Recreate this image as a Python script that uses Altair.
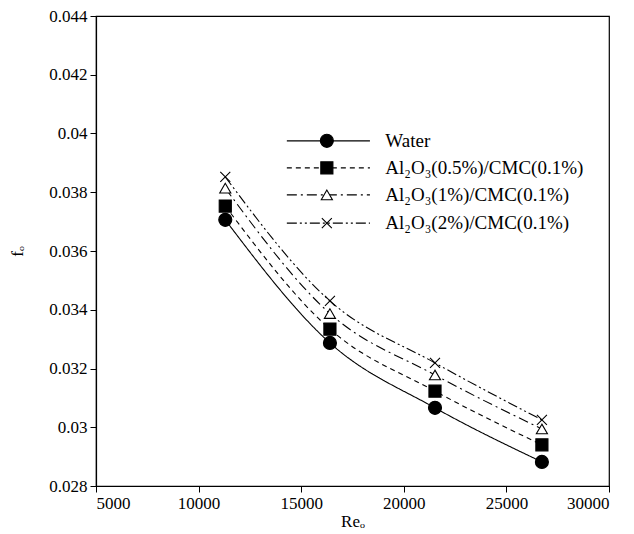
import altair as alt
import pandas as pd

# ---- data ----
re_vals = [11300, 16400, 21520, 26730]
series_names = ["Water", "Al₂O₃(0.5%)/CMC(0.1%)", "Al₂O₃(1%)/CMC(0.1%)", "Al₂O₃(2%)/CMC(0.1%)"]
f_water = [0.03706, 0.03287, 0.03066, 0.02882]
f_al05 = [0.03753, 0.03334, 0.03123, 0.02940]
f_al1 = [0.03814, 0.03387, 0.03178, 0.02994]
f_al2 = [0.03852, 0.03430, 0.03219, 0.03025]

x_ticks = [5000, 10000, 15000, 20000, 25000, 30000]
y_ticks = [0.028, 0.030, 0.032, 0.034, 0.036, 0.038, 0.040, 0.042, 0.044]

# legend placement (data units)
leg_y = [0.03975, 0.03883, 0.03791, 0.03695]
leg_x1, leg_xm, leg_x2, leg_xt = 14300, 16250, 18350, 19100

# ---- styles ----
dashes = [[1, 0], [5, 4], [10, 4, 2, 4], [10, 3, 2, 3, 2, 3]]
shapes = ["circle", "square", "triangle-up", "M-1,-1L1,1M1,-1L-1,1"]
fills = ["black", "black", "white", "transparent"]
sizes = [170, 100, 130, 80]

rows = []
for name, vals in zip(series_names, [f_water, f_al05, f_al1, f_al2]):
    for r, f in zip(re_vals, vals):
        rows.append({"series": name, "Re": r, "f": f})
df = pd.DataFrame(rows)

leg = pd.DataFrame({
    "series": series_names,
    "y": leg_y,
    "x1": [leg_x1] * 4,
    "x2": [leg_x2] * 4,
    "xm": [leg_xm] * 4,
    "xt": [leg_xt] * 4,
})

FONT = "Liberation Serif"

xscale = alt.Scale(domain=[5000, 30000], nice=False, zero=False)
yscale = alt.Scale(domain=[0.028, 0.044], nice=False, zero=False)

dash_enc = alt.StrokeDash("series:N", scale=alt.Scale(domain=series_names, range=dashes), legend=None)
shape_enc = alt.Shape("series:N", scale=alt.Scale(domain=series_names, range=shapes), legend=None)
fill_enc = alt.Fill("series:N", scale=alt.Scale(domain=series_names, range=fills), legend=None)
size_enc = alt.Size("series:N", scale=alt.Scale(domain=series_names, range=sizes), legend=None)

axis_style = dict(labelFont=FONT, labelFontSize=17, labelColor="black",
                  titleFont=FONT, titleFontSize=17, titleColor="black", titleFontWeight="normal",
                  domainColor="black", tickColor="black", tickSize=6, domainWidth=1.2,
                  labelPadding=3, grid=False)

X = alt.X("Re:Q", scale=xscale,
          axis=alt.Axis(values=x_ticks, format="d", title="Reₒ", titlePadding=2, **axis_style))
Y = alt.Y("f:Q", scale=yscale,
          axis=alt.Axis(values=y_ticks, format=".3~f", title="fₒ", titlePadding=22, **axis_style))

lines = alt.Chart(df).mark_line(interpolate="monotone", color="black", strokeWidth=1.1).encode(
    x=X, y=Y, strokeDash=dash_enc, detail="series:N")

points = alt.Chart(df).mark_point(stroke="black", strokeWidth=1.1, opacity=1, fillOpacity=1).encode(
    x="Re:Q", y="f:Q", shape=shape_enc, fill=fill_enc, size=size_enc)

leg_lines = alt.Chart(leg).mark_rule(color="black", strokeWidth=1.1).encode(
    x="x1:Q", x2="x2:Q", y="y:Q", strokeDash=dash_enc)

leg_points = alt.Chart(leg).mark_point(stroke="black", strokeWidth=1.1, opacity=1, fillOpacity=1).encode(
    x="xm:Q", y="y:Q", shape=shape_enc, fill=fill_enc, size=size_enc)

leg_text = alt.Chart(leg).mark_text(align="left", baseline="middle", font=FONT, fontSize=19, color="black").encode(
    x="xt:Q", y="y:Q", text="series:N")

chart = alt.layer(lines, points, leg_lines, leg_points, leg_text).properties(
    width=513, height=470,
    autosize=alt.AutoSizeParams(type="none"),
    padding={"left": 88, "top": 8, "right": 17, "bottom": 46},
).configure(font=FONT).configure_view(stroke="black", strokeWidth=1.2)

chart.save("out.html", embed_options={"renderer": "svg", "actions": False})
